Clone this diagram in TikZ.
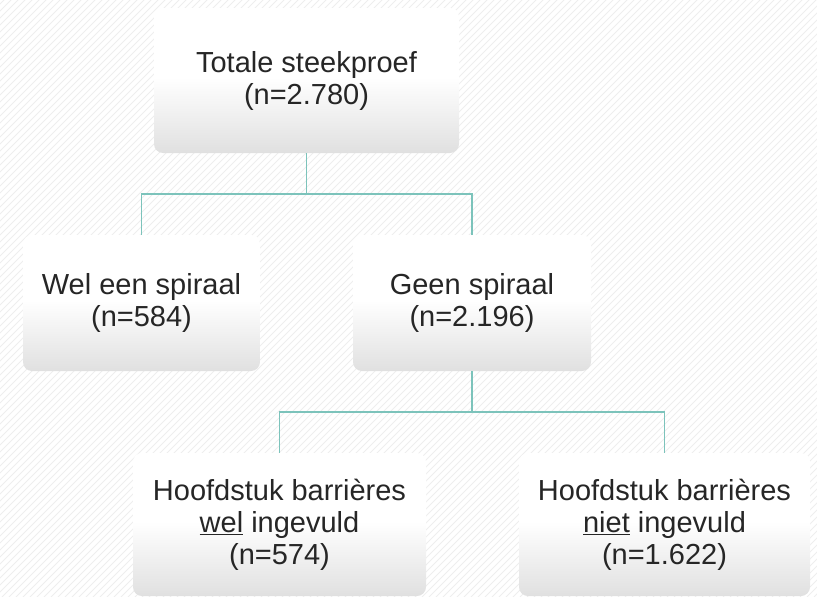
\documentclass[tikz,border=0pt]{standalone}
\usepackage{fontspec}
\setmainfont{Liberation Sans}
\definecolor{conncol}{HTML}{7CC3BB}
\definecolor{boxgray}{HTML}{E0E0E0}
\definecolor{hatch}{HTML}{EEEEEE}
\pgfdeclareverticalshading{boxshade}{100bp}{color(0bp)=(boxgray); color(25bp)=(boxgray); color(51bp)=(white); color(75bp)=(white); color(100bp)=(white)}
\tikzset{
  box/.style={shading=boxshade, rounded corners=9pt, inner sep=0pt, align=center,
    font=\fontsize{29}{32}\selectfont, text=black!85},
  conn/.style={draw=conncol, line width=1.5pt}
}
\begin{document}
\begin{tikzpicture}[x=1pt,y=-1pt]
\useasboundingbox (0,0) rectangle (817,597);
\begin{scope}
\clip (0,0) rectangle (817,597);
\foreach \i in {0,7,...,1450} {
  \draw[hatch, line width=0.9pt] (\i-600,597) -- (\i,-3);
}
\end{scope}
\node[box, minimum width=305pt, minimum height=145pt] (top) at (306.5,80.5) {Totale steekproef\\(n=2.780)};
\node[box, minimum width=237pt, minimum height=136pt] (wel) at (141.5,303) {Wel een spiraal\\(n=584)};
\node[box, minimum width=238pt, minimum height=136pt] (geen) at (472,303) {Geen spiraal\\(n=2.196)};
\node[box, minimum width=293pt, minimum height=143pt] (bwel) at (279.5,524.5) {Hoofdstuk barrières\\\underline{wel} ingevuld\\(n=574)};
\node[box, minimum width=291pt, minimum height=143pt] (bniet) at (664.5,524.5) {Hoofdstuk barrières\\\underline{niet} ingevuld\\(n=1.622)};
\coordinate (j1) at (306.5,194);
\coordinate (j2) at (472,412);
\draw[conn] (top.south) -- (j1);
\draw[conn] (j1) -| (wel.north);
\draw[conn] (j1) -| (geen.north);
\draw[conn] (geen.south) -- (j2);
\draw[conn] (j2) -| (bwel.north);
\draw[conn] (j2) -| (bniet.north);
\end{tikzpicture}
\end{document}
